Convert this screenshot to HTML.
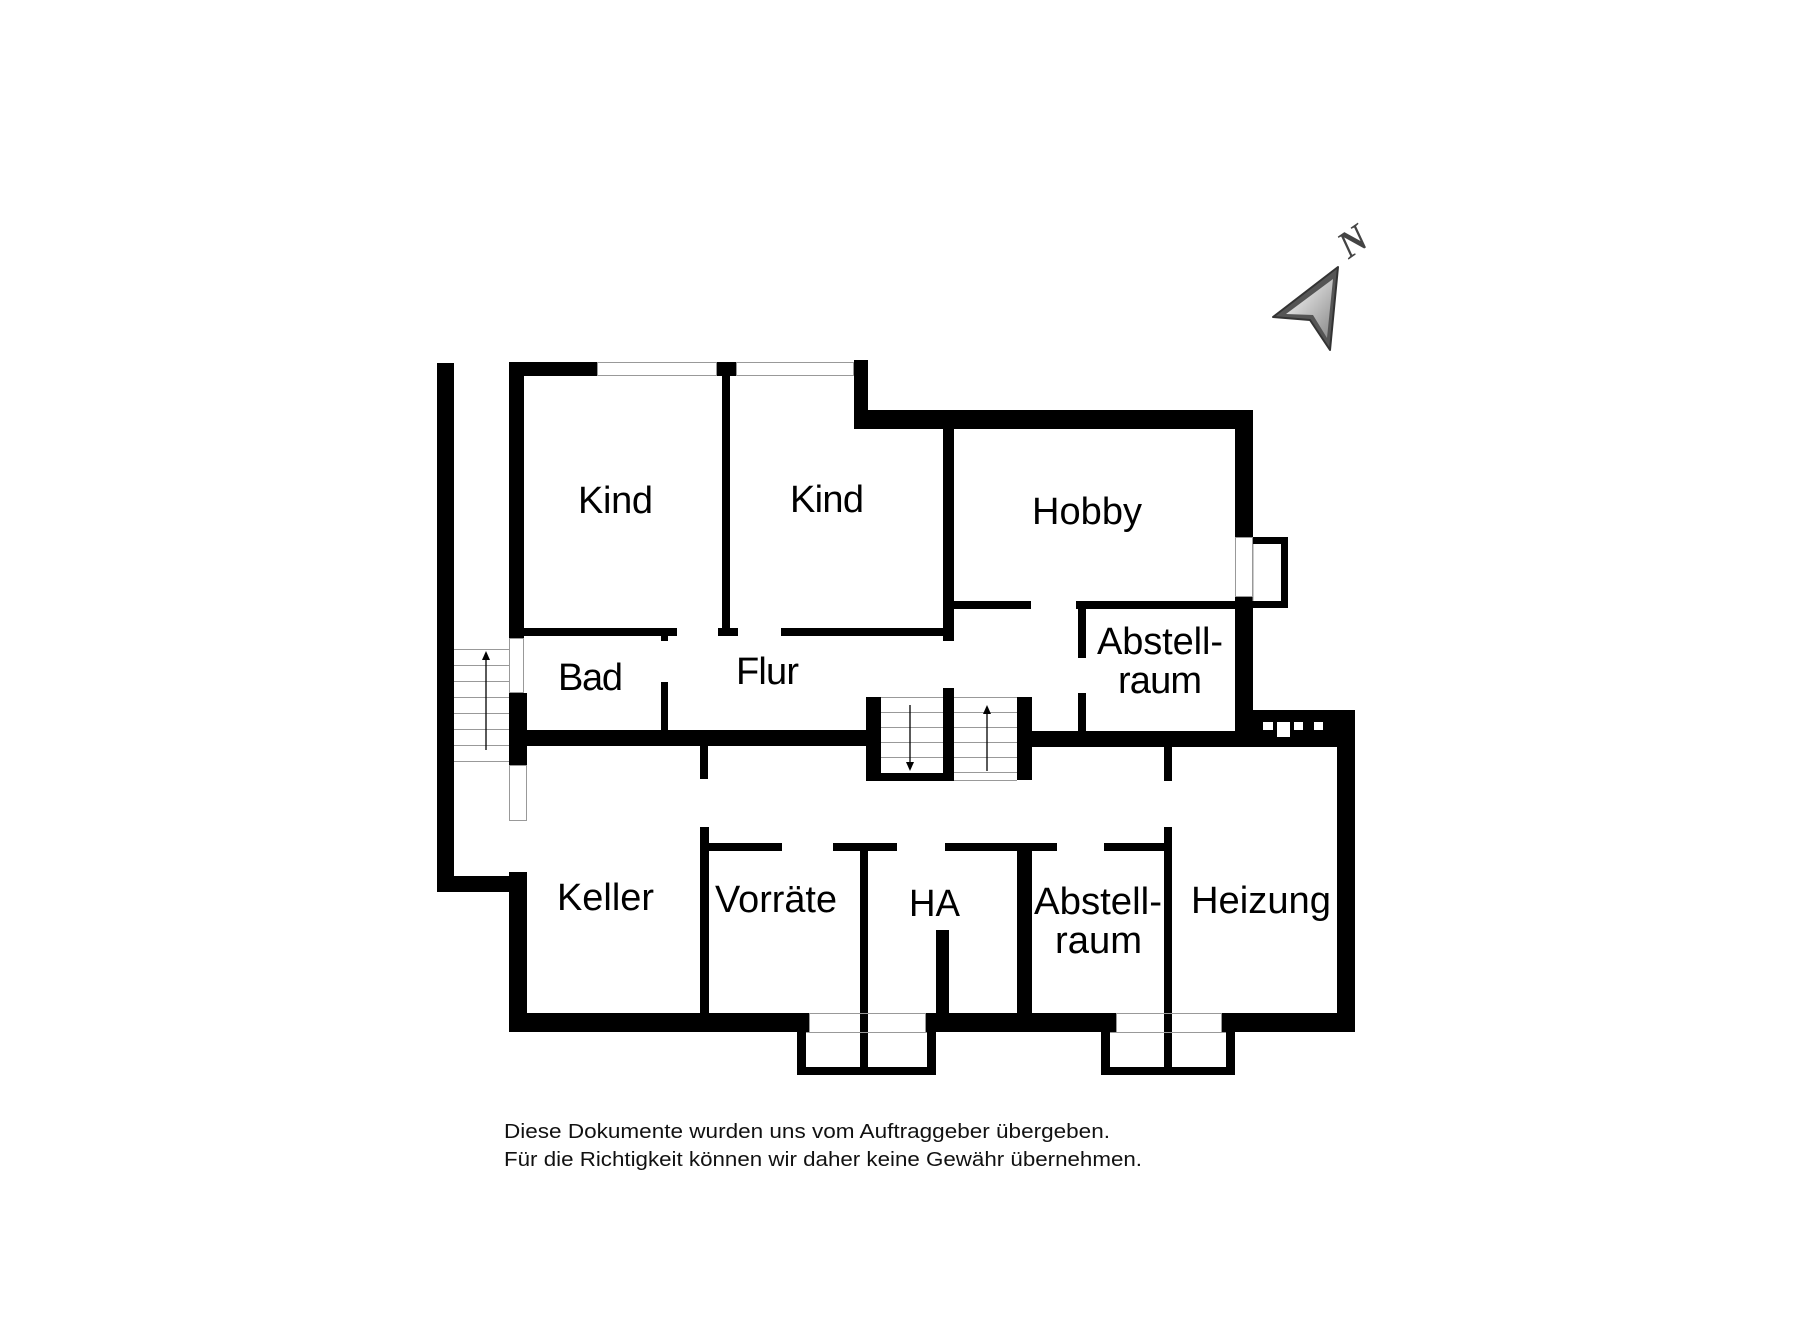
<!DOCTYPE html>
<html><head><meta charset="utf-8"><style>
html,body{margin:0;padding:0;background:#fff;}
svg{display:block;}
</style></head><body>
<svg width="1800" height="1322" viewBox="0 0 1800 1322" xmlns="http://www.w3.org/2000/svg">
<rect width="1800" height="1322" fill="#fff"/>
<g fill="#000">
<rect x="437" y="363" width="17" height="529"/>
<rect x="437" y="876" width="90" height="16"/>
<rect x="509" y="362" width="15" height="276"/>
<rect x="509" y="693" width="18" height="72"/>
<rect x="509" y="872" width="18" height="160"/>
<rect x="509" y="362" width="88" height="14"/>
<rect x="717" y="362" width="19" height="14"/>
<rect x="854" y="360" width="14" height="69"/>
<rect x="854" y="410" width="399" height="19"/>
<rect x="1235" y="410" width="18" height="127"/>
<rect x="1235" y="597" width="18" height="136"/>
<rect x="1253" y="537" width="35" height="7"/>
<rect x="1281" y="537" width="7" height="71"/>
<rect x="1253" y="601" width="35" height="7"/>
<rect x="722" y="376" width="8" height="252"/>
<rect x="718" y="628" width="20" height="8"/>
<rect x="524" y="628" width="153" height="8"/>
<rect x="661" y="636" width="7" height="5"/>
<rect x="781" y="628" width="162" height="8"/>
<rect x="943" y="429" width="11" height="212"/>
<rect x="954" y="601" width="77" height="8"/>
<rect x="1076" y="601" width="160" height="8"/>
<rect x="1078" y="609" width="8" height="49"/>
<rect x="1078" y="693" width="8" height="40"/>
<rect x="661" y="682" width="7" height="48"/>
<rect x="509" y="730" width="357" height="16"/>
<rect x="700" y="746" width="8" height="33"/>
<rect x="866" y="697" width="15" height="84"/>
<rect x="866" y="773" width="88" height="8"/>
<rect x="943" y="688" width="11" height="93"/>
<rect x="1017" y="697" width="15" height="83"/>
<rect x="1032" y="731" width="305" height="16"/>
<rect x="1253" y="710" width="102" height="22"/>
<rect x="1337" y="710" width="18" height="322"/>
<rect x="1164" y="747" width="8" height="34"/>
<rect x="700" y="827" width="9" height="186"/>
<rect x="1164" y="827" width="8" height="248"/>
<rect x="709" y="843" width="73" height="8"/>
<rect x="833" y="843" width="64" height="8"/>
<rect x="945" y="843" width="112" height="8"/>
<rect x="1104" y="843" width="60" height="8"/>
<rect x="860" y="851" width="8" height="216"/>
<rect x="1017" y="851" width="15" height="162"/>
<rect x="936" y="930" width="13" height="83"/>
<rect x="509" y="1013" width="300" height="19"/>
<rect x="926" y="1013" width="190" height="19"/>
<rect x="1222" y="1013" width="133" height="19"/>
<rect x="797" y="1032" width="9" height="43"/>
<rect x="927" y="1032" width="9" height="43"/>
<rect x="797" y="1067" width="139" height="8"/>
<rect x="1101" y="1032" width="9" height="43"/>
<rect x="1226" y="1032" width="9" height="43"/>
<rect x="1101" y="1067" width="134" height="8"/>
</g>
<g fill="#fff">
<rect x="1263" y="722" width="10" height="8"/>
<rect x="1277" y="722" width="13" height="15"/>
<rect x="1294" y="722" width="9" height="8"/>
<rect x="1314" y="722" width="9" height="8"/>
</g>
<g fill="none" stroke="#999" stroke-width="1">
<rect x="509.5" y="638.5" width="14" height="54"/>
<rect x="509.5" y="765.5" width="17" height="55"/>
<rect x="597.5" y="362.5" width="119" height="13"/>
<rect x="736.5" y="362.5" width="117" height="13"/>
<rect x="1235.5" y="537.5" width="17" height="59"/>
<line x1="1253" y1="544" x2="1253" y2="601"/>
<line x1="809" y1="1013.5" x2="926" y2="1013.5"/>
<line x1="806" y1="1032.5" x2="927" y2="1032.5"/>
<line x1="1116" y1="1013.5" x2="1222" y2="1013.5"/>
<line x1="1110" y1="1032.5" x2="1226" y2="1032.5"/>
<line x1="809.5" y1="1013" x2="809.5" y2="1032"/>
<line x1="925.5" y1="1013" x2="925.5" y2="1032"/>
<line x1="1116.5" y1="1013" x2="1116.5" y2="1032"/>
<line x1="1221.5" y1="1013" x2="1221.5" y2="1032"/>
<line x1="881" y1="697.5" x2="943" y2="697.5"/>
<line x1="881" y1="712.5" x2="943" y2="712.5"/>
<line x1="881" y1="727.5" x2="943" y2="727.5"/>
<line x1="881" y1="742.5" x2="943" y2="742.5"/>
<line x1="881" y1="757.5" x2="943" y2="757.5"/>
<line x1="954" y1="697.5" x2="1017" y2="697.5"/>
<line x1="954" y1="712.5" x2="1017" y2="712.5"/>
<line x1="954" y1="727.5" x2="1017" y2="727.5"/>
<line x1="954" y1="742.5" x2="1017" y2="742.5"/>
<line x1="954" y1="757.5" x2="1017" y2="757.5"/>
<line x1="954" y1="772.5" x2="1017" y2="772.5"/>
<line x1="954" y1="780.5" x2="1017" y2="780.5"/>
<line x1="454" y1="649.5" x2="509" y2="649.5"/>
<line x1="454" y1="665.5" x2="509" y2="665.5"/>
<line x1="454" y1="681.5" x2="509" y2="681.5"/>
<line x1="454" y1="697.5" x2="509" y2="697.5"/>
<line x1="454" y1="713.5" x2="509" y2="713.5"/>
<line x1="454" y1="729.5" x2="509" y2="729.5"/>
<line x1="454" y1="745.5" x2="509" y2="745.5"/>
<line x1="454" y1="761.5" x2="509" y2="761.5"/>
</g>
<g stroke="#000" stroke-width="1.3" fill="#000">
<line x1="910" y1="705" x2="910" y2="764"/>
<polygon points="906,762 914,762 910,771" stroke="none"/>
<line x1="987" y1="712" x2="987" y2="771"/>
<polygon points="983,714 991,714 987,705" stroke="none"/>
<line x1="486" y1="658" x2="486" y2="750"/>
<polygon points="482,660 490,660 486,651" stroke="none"/>
</g>
<g font-family="Liberation Sans, sans-serif" font-size="38" fill="#000">
<text x="578" y="513" textLength="75">Kind</text>
<text x="790" y="512" textLength="74">Kind</text>
<text x="558" y="690" textLength="65">Bad</text>
<text x="736" y="684" textLength="63">Flur</text>
<text x="1032" y="524" textLength="110">Hobby</text>
<text x="1097" y="654" textLength="126">Abstell-</text>
<text x="1118" y="693" textLength="84">raum</text>
<text x="557" y="910" textLength="97" lengthAdjust="spacingAndGlyphs">Keller</text>
<text x="715" y="912" textLength="122" lengthAdjust="spacingAndGlyphs">Vorräte</text>
<text x="909" y="916" textLength="51" lengthAdjust="spacingAndGlyphs">HA</text>
<text x="1034" y="914" textLength="128" lengthAdjust="spacingAndGlyphs">Abstell-</text>
<text x="1055" y="953" textLength="87" lengthAdjust="spacingAndGlyphs">raum</text>
<text x="1191" y="913" textLength="140" lengthAdjust="spacingAndGlyphs">Heizung</text>
</g>
<g font-family="Liberation Sans, sans-serif" font-size="20" fill="#111">
<text x="504" y="1138" textLength="606" lengthAdjust="spacingAndGlyphs">Diese Dokumente wurden uns vom Auftraggeber übergeben.</text>
<text x="504" y="1166" textLength="638" lengthAdjust="spacingAndGlyphs">Für die Richtigkeit können wir daher keine Gewähr übernehmen.</text>
</g>
<defs><linearGradient id="g" x1="0" y1="0" x2="1" y2="1"><stop offset="0" stop-color="#fff"/><stop offset="1" stop-color="#888"/></linearGradient></defs>
<polygon points="1338,267 1273,317 1310,320 1330,350" fill="#555" stroke="#333" stroke-width="2" stroke-linejoin="round"/>
<polygon points="1333,279 1286,314 1313,315 1327,338" fill="url(#g)"/>
<text x="1352" y="254" font-family="Liberation Serif, serif" font-style="italic" font-weight="bold" font-size="38" fill="#444" text-anchor="middle" transform="rotate(-35 1352 240)">N</text>
</svg>
</body></html>
